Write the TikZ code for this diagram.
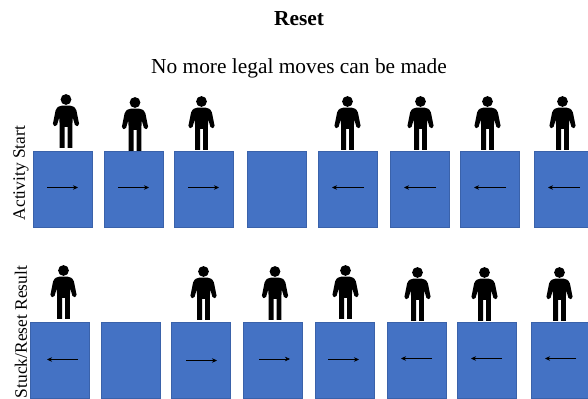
\documentclass[tikz,border=0pt]{standalone}
\usepackage{fontspec}
\setmainfont{Liberation Serif}
\usepackage{xcolor}
\usetikzlibrary{arrows.meta}
\definecolor{bxblue}{RGB}{68,114,196}
\definecolor{bxedge}{RGB}{58,98,170}
\tikzstyle{arrow} = [line width=0.35pt,-{Stealth[length=3.6pt,width=3.2pt]},color=black]
\tikzstyle{stagebox} = [draw=bxedge,fill=bxblue,line width=0.6pt,minimum width=1.475cm,minimum height=1.9cm,inner sep=0pt,outer sep=0pt]
\tikzstyle{rowlabel} = [rotate=90,font=\fontsize{12.4}{15}\selectfont,inner sep=0pt]
\tikzstyle{headline} = [font=\fontsize{15.2}{18}\selectfont,inner sep=0pt]
\tikzset{
  person/.pic={
    \fill (0,-48.5) circle[radius=5.4];
    \fill (-1.5,0) -- (-6.4,0) -- (-6.4,-20) [rounded corners=1.2pt] -- (-6.6,-31) -- (-9.4,-21.5) -- (-13.4,-22.5)
      -- (-10,-39.5) -- (-6,-42.3) -- (6,-42.3) -- (10,-39.5) -- (13.4,-22.5) -- (9.4,-21.5)
      -- (6.6,-31) [sharp corners] -- (6.4,-20) -- (6.4,0) -- (1.5,0) -- (1.5,-21) -- (-1.5,-21) -- cycle;
  }
}
\begin{document}
\begin{tikzpicture}[x=0.025cm,y=-0.025cm]
\useasboundingbox (0,0) rectangle (588,399);
\clip (0,0) rectangle (588,399);

% Headings
\node[headline] (title) at (299,18.5) {\textbf{Reset}};
\node[headline] (subtitle) at (299,68) {No more legal moves can be made};
\node[rowlabel] (startlabel) at (21,173) {Activity Start};
\node[rowlabel] (resultlabel) at (21,332) {Stuck/Reset Result};

% Start row
\node[stagebox] (start1) at (62.5,189) {};
\node[stagebox] (start2) at (133.5,189) {};
\node[stagebox] (start3) at (203.5,189) {};
\node[stagebox] (start4) at (276.5,189) {};
\node[stagebox] (start5) at (347.5,189) {};
\node[stagebox] (start6) at (419.5,189) {};
\node[stagebox] (start7) at (489.5,189) {};
\node[stagebox] (start8) at (563.5,189) {};

\draw[arrow] (47,187.5) -- (78,187.5);
\draw[arrow] (118,187.5) -- (149,187.5);
\draw[arrow] (188,187.5) -- (219,187.5);
\draw[arrow] (364,187.5) -- (332,187.5);
\draw[arrow] (436,187.5) -- (404,187.5);
\draw[arrow] (506,187.5) -- (474,187.5);
\draw[arrow] (580,187.5) -- (548,187.5);

\pic at (66,148) {person};
\pic at (135,151) {person};
\pic at (201.5,150) {person};
\pic at (347.5,150) {person};
\pic at (420.5,150) {person};
\pic at (487.5,150) {person};
\pic at (562.5,150) {person};

% Result row
\node[stagebox] (result1) at (59.5,360) {};
\node[stagebox] (result2) at (130.5,360) {};
\node[stagebox] (result3) at (200.5,360) {};
\node[stagebox] (result4) at (273,360) {};
\node[stagebox] (result5) at (345,360) {};
\node[stagebox] (result6) at (416.5,360) {};
\node[stagebox] (result7) at (486.5,360) {};
\node[stagebox] (result8) at (560.5,360) {};

\draw[arrow] (78,359.5) -- (47,359.5);
\draw[arrow] (186,360.5) -- (217,360.5);
\draw[arrow] (259,359) -- (290,359);
\draw[arrow] (328,359.5) -- (359,359.5);
\draw[arrow] (432,358.5) -- (401,358.5);
\draw[arrow] (502,358.5) -- (471,358.5);
\draw[arrow] (576,358.5) -- (545,358.5);

\pic at (63.5,319) {person};
\pic at (203.5,320) {person};
\pic at (275,320) {person};
\pic at (345.5,319) {person};
\pic at (417.5,321) {person};
\pic at (484.5,321) {person};
\pic at (559.5,321) {person};
\end{tikzpicture}
\end{document}
